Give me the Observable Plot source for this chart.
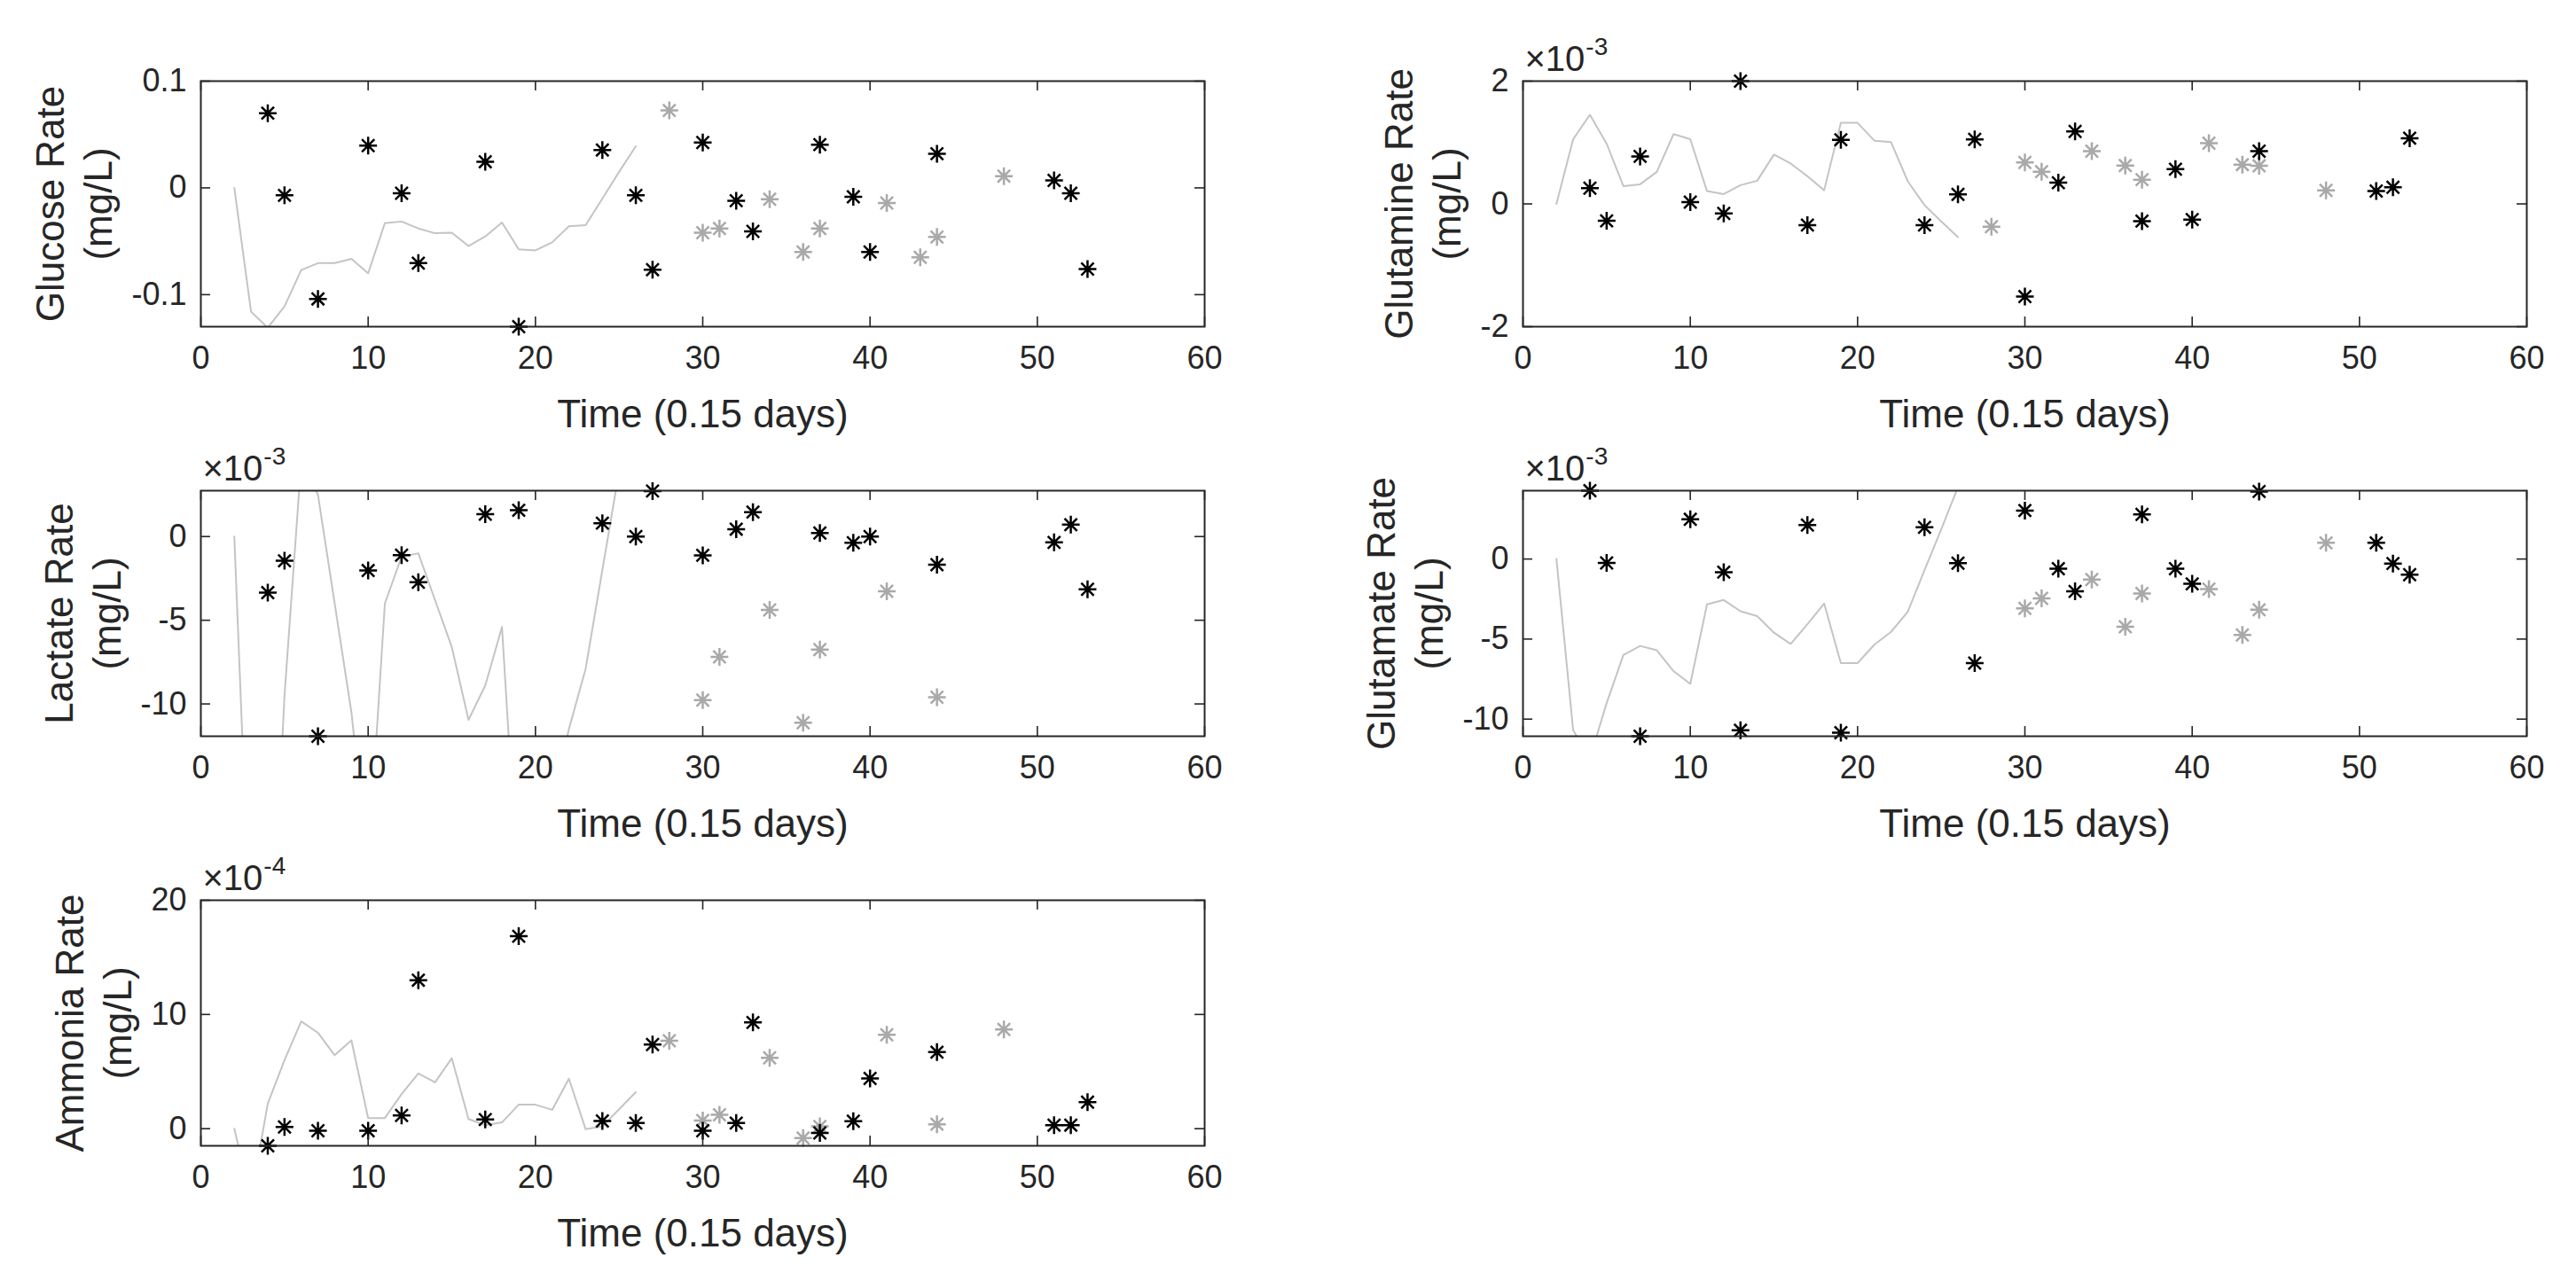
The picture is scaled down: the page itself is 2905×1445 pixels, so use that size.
<!DOCTYPE html>
<html>
<head>
<meta charset="utf-8">
<script src="https://cdn.jsdelivr.net/npm/d3@7"></script>
<script src="https://cdn.jsdelivr.net/npm/@observablehq/plot@0.6"></script>
<style>
  html, body { margin: 0; padding: 0; background: #ffffff; }
  #chart { position: relative; width: 2905px; height: 1445px; background: #ffffff; overflow: hidden; }
  #chart svg { position: absolute; left: 0; top: 0; }
</style>
</head>
<body>
<div id="chart"></div>
<script>
// ---------- data (exponent panels in displayed units) ----------
const lineX  = [2,3,4,5,6,7,8,9,10,11,12,13,14,15,16,17,18,19,20,21,22,23,24,25,26];
const blackX = [4,5,7,10,12,13,17,19,24,26,27,30,32,33,37,39,40,44,51,52,53];
const grayX  = [28,30,31,34,36,37,41,43,44,48];
const xTicks = [0,10,20,30,40,50,60];

const glucoseLine  = [0,-0.116,-0.131,-0.111,-0.077,-0.0705,-0.0705,-0.0665,-0.080,-0.033,-0.0315,-0.038,-0.0425,-0.042,-0.0545,-0.0455,-0.0325,-0.0575,-0.0585,-0.051,-0.036,-0.035,-0.010,0.015,0.039];
const glucoseBlack = [0.070,-0.007,-0.104,0.0396,-0.005,-0.0705,0.0245,-0.130,0.0355,-0.007,-0.0766,0.0425,-0.012,-0.0407,0.0405,-0.0084,-0.060,0.032,0.007,-0.005,-0.076];
const glucoseGray  = [0.0725,-0.042,-0.038,-0.0106,-0.060,-0.038,-0.0142,-0.065,-0.046,0.011];
const glucoseTicks = [-0.1,0,0.1];
const glucoseDomain = [-0.13,0.1];

const glutamineLine  = [0,1.054,1.451,0.982,0.29,0.319,0.522,1.137,1.054,0.208,0.16,0.305,0.377,0.803,0.658,0.45,0.222,1.32,1.32,1.03,1.006,0.368,-0.02,-0.285,-0.542];
const glutamineBlack = [0.256,-0.276,0.774,0.029,-0.155,2.0,-0.345,1.045,-0.345,0.155,1.05,-1.51,0.345,1.18,-0.28,0.565,-0.255,0.86,0.21,0.27,1.07];
const glutamineGray  = [-0.372,0.675,0.525,0.86,0.625,0.395,0.99,0.64,0.62,0.22];
const glutamineTicks = [-2,0,2];
const glutamineDomain = [-2,2];

const lactateLine  = [0,-25,-30,-9.5,4.5,2.5,-4,-10.5,-19.8,-4,-1.2,-1.0,-3.8,-6.6,-10.95,-8.9,-5.4,-21.8,-22,-16,-11.5,-7.9,-2.0,3.9,9];
const lactateBlack = [-3.35,-1.45,-11.93,-2.03,-1.11,-2.73,1.33,1.57,0.8,0,2.72,-1.12,0.44,1.46,0.21,-0.37,0,-1.68,-0.35,0.71,-3.15];
const lactateGray  = [null,-9.77,-7.19,-4.38,-11.12,-6.75,-3.27,null,-9.6,null];
const lactateTicks = [-10,-5,0];
const lactateDomain = [-11.93,2.74];

const glutamateLine  = [0,-10.7,-12.45,-9.0,-6.0,-5.43,-5.7,-7.0,-7.8,-2.83,-2.56,-3.26,-3.57,-4.6,-5.3,-4.07,-2.78,-6.5,-6.5,-5.35,-4.55,-3.3,-0.7,1.85,4.5];
const glutamateBlack = [4.27,-0.24,-11.07,2.48,-0.82,-10.7,2.12,-10.85,1.98,-0.26,-6.5,3.03,-0.6,-2.02,2.79,-0.6,-1.55,4.22,1.01,-0.28,-0.98];
const glutamateGray  = [null,-3.08,-2.46,-1.28,-4.23,-2.15,-1.88,-4.74,-3.17,1.01];
const glutamateTicks = [-10,-5,0];
const glutamateDomain = [-11.07,4.27];

const ammoniaLine  = [0,-6.1,2.2,6.0,9.4,8.4,6.43,7.74,0.93,0.93,3.03,4.83,4.06,6.17,0.85,0.3,0.55,2.1,2.1,1.65,4.38,-0.05,0.2,1.7,3.2];
const ammoniaBlack = [-1.5,0.15,-0.18,-0.18,1.16,13.0,0.8,16.85,0.67,0.49,7.37,-0.18,0.49,9.3,-0.37,0.65,4.4,6.7,0.31,0.31,2.32];
const ammoniaGray  = [7.7,0.72,1.22,6.2,-0.82,0.2,8.22,null,0.39,8.69];
const ammoniaTicks = [0,10,20];
const ammoniaDomain = [-1.5,20];

const panelNames = ["Glucose Rate","Glutamine Rate","Lactate Rate","Glutamate Rate","Ammonia Rate"];
const unitLabel = "(mg/L)";
const xLabel = "Time (0.15 days)";
const exponents = [null,-3,-3,-3,-4];

// ---------- layout / style ----------
const W = 2905, H = 1445;
const cols = [{left: 226, right: 1358}, {left: 1717, right: 2849}];
const rows = [{top: 91, bottom: 368}, {top: 553, bottom: 830}, {top: 1015, bottom: 1292}];
const FONT = "Liberation Sans, Arial, Helvetica, sans-serif";
const tickFont = 36, labelFont = 44, expBaseFont = 40, expFont = 28;
const axisColor = "#262626", lineColor = "#c4c4c4", grayStar = "#a9a9a9";
const tickLen = 11;

const cv = document.createElement("canvas").getContext("2d");
function textW(s, size) { cv.font = `${size}px "Liberation Sans"`; return cv.measureText(s).width; }

// MATLAB-like '*' marker (plus + cross)
const asterisk = {
  draw(ctx, size) {
    const r = Math.sqrt(size / Math.PI), d = r * Math.SQRT1_2;
    ctx.moveTo(0, -r); ctx.lineTo(0, r);
    ctx.moveTo(-r, 0); ctx.lineTo(r, 0);
    ctx.moveTo(-d, -d); ctx.lineTo(d, d);
    ctx.moveTo(-d, d); ctx.lineTo(d, -d);
  }
};

const panels = [
  {line: glucoseLine, black: glucoseBlack, gray: glucoseGray, ticks: glucoseTicks, domain: glucoseDomain, col: 0, row: 0},
  {line: glutamineLine, black: glutamineBlack, gray: glutamineGray, ticks: glutamineTicks, domain: glutamineDomain, col: 1, row: 0},
  {line: lactateLine, black: lactateBlack, gray: lactateGray, ticks: lactateTicks, domain: lactateDomain, col: 0, row: 1},
  {line: glutamateLine, black: glutamateBlack, gray: glutamateGray, ticks: glutamateTicks, domain: glutamateDomain, col: 1, row: 1},
  {line: ammoniaLine, black: ammoniaBlack, gray: ammoniaGray, ticks: ammoniaTicks, domain: ammoniaDomain, col: 0, row: 2}
];

const zip = (xs, ys) => xs.map((x, i) => ({x, y: ys[i]})).filter(d => d.y != null);
const chart = document.getElementById("chart");

panels.forEach((p, i) => {
  const c = cols[p.col], r = rows[p.row];
  const pw = c.right - c.left, ph = r.bottom - r.top;
  const fmt = d => String(d);
  const tickW = Math.max(...p.ticks.map(t => textW(fmt(t), tickFont)));
  const marks = [
    Plot.line(zip(lineX, p.line), {x: "x", y: "y", stroke: lineColor, strokeWidth: 2, clip: true}),
    Plot.dot(zip(grayX, p.gray), {x: "x", y: "y", symbol: asterisk, r: 10, stroke: grayStar, strokeWidth: 2.5, fill: "none"}),
    Plot.dot(zip(blackX, p.black), {x: "x", y: "y", symbol: asterisk, r: 10, stroke: "#000000", strokeWidth: 2.5, fill: "none"}),
    Plot.tickX(xTicks, {x: d => d, insetTop: ph - tickLen, stroke: axisColor, strokeWidth: 1.6}),
    Plot.tickX(xTicks, {x: d => d, insetBottom: ph - tickLen, stroke: axisColor, strokeWidth: 1.6}),
    Plot.tickY(p.ticks, {y: d => d, insetRight: pw - tickLen, stroke: axisColor, strokeWidth: 1.6}),
    Plot.tickY(p.ticks, {y: d => d, insetLeft: pw - tickLen, stroke: axisColor, strokeWidth: 1.6}),
    Plot.frame({stroke: axisColor, strokeWidth: 2}),
    Plot.axisX({ticks: xTicks, tickSize: 0, tickPadding: 22, tickFormat: fmt, label: null, fontSize: tickFont}),
    Plot.axisY({ticks: p.ticks, tickSize: 0, tickPadding: 16, tickFormat: fmt, label: null, fontSize: tickFont}),
    Plot.text([xLabel], {frameAnchor: "bottom", lineAnchor: "bottom", dy: 113, fontSize: labelFont, fill: axisColor}),
    Plot.text([panelNames[i] + "\n" + unitLabel], {frameAnchor: "left", rotate: -90, textAnchor: "middle", lineAnchor: "bottom",
      lineHeight: 1.23, dx: -(tickW + 38), fontSize: labelFont, fill: axisColor})
  ];
  if (exponents[i] != null) {
    const base = "\u00d710";
    marks.push(Plot.text([base], {frameAnchor: "top-left", textAnchor: "start", lineAnchor: "bottom", dx: 2, dy: -12, fontSize: expBaseFont, fill: axisColor}));
    marks.push(Plot.text([String(exponents[i])], {frameAnchor: "top-left", textAnchor: "start", lineAnchor: "bottom",
      dx: 2 + textW(base, expBaseFont) + 1, dy: -30, fontSize: expFont, fill: axisColor}));
  }
  const svg = Plot.plot({
    width: W, height: H,
    marginLeft: c.left, marginRight: W - c.right, marginTop: r.top, marginBottom: H - r.bottom,
    x: {domain: [0, 60]},
    y: {domain: p.domain},
    style: {background: "transparent", fontFamily: FONT, fontSize: tickFont + "px", color: axisColor, overflow: "visible"},
    marks
  });
  chart.appendChild(svg);
});
</script>
</body>
</html>
